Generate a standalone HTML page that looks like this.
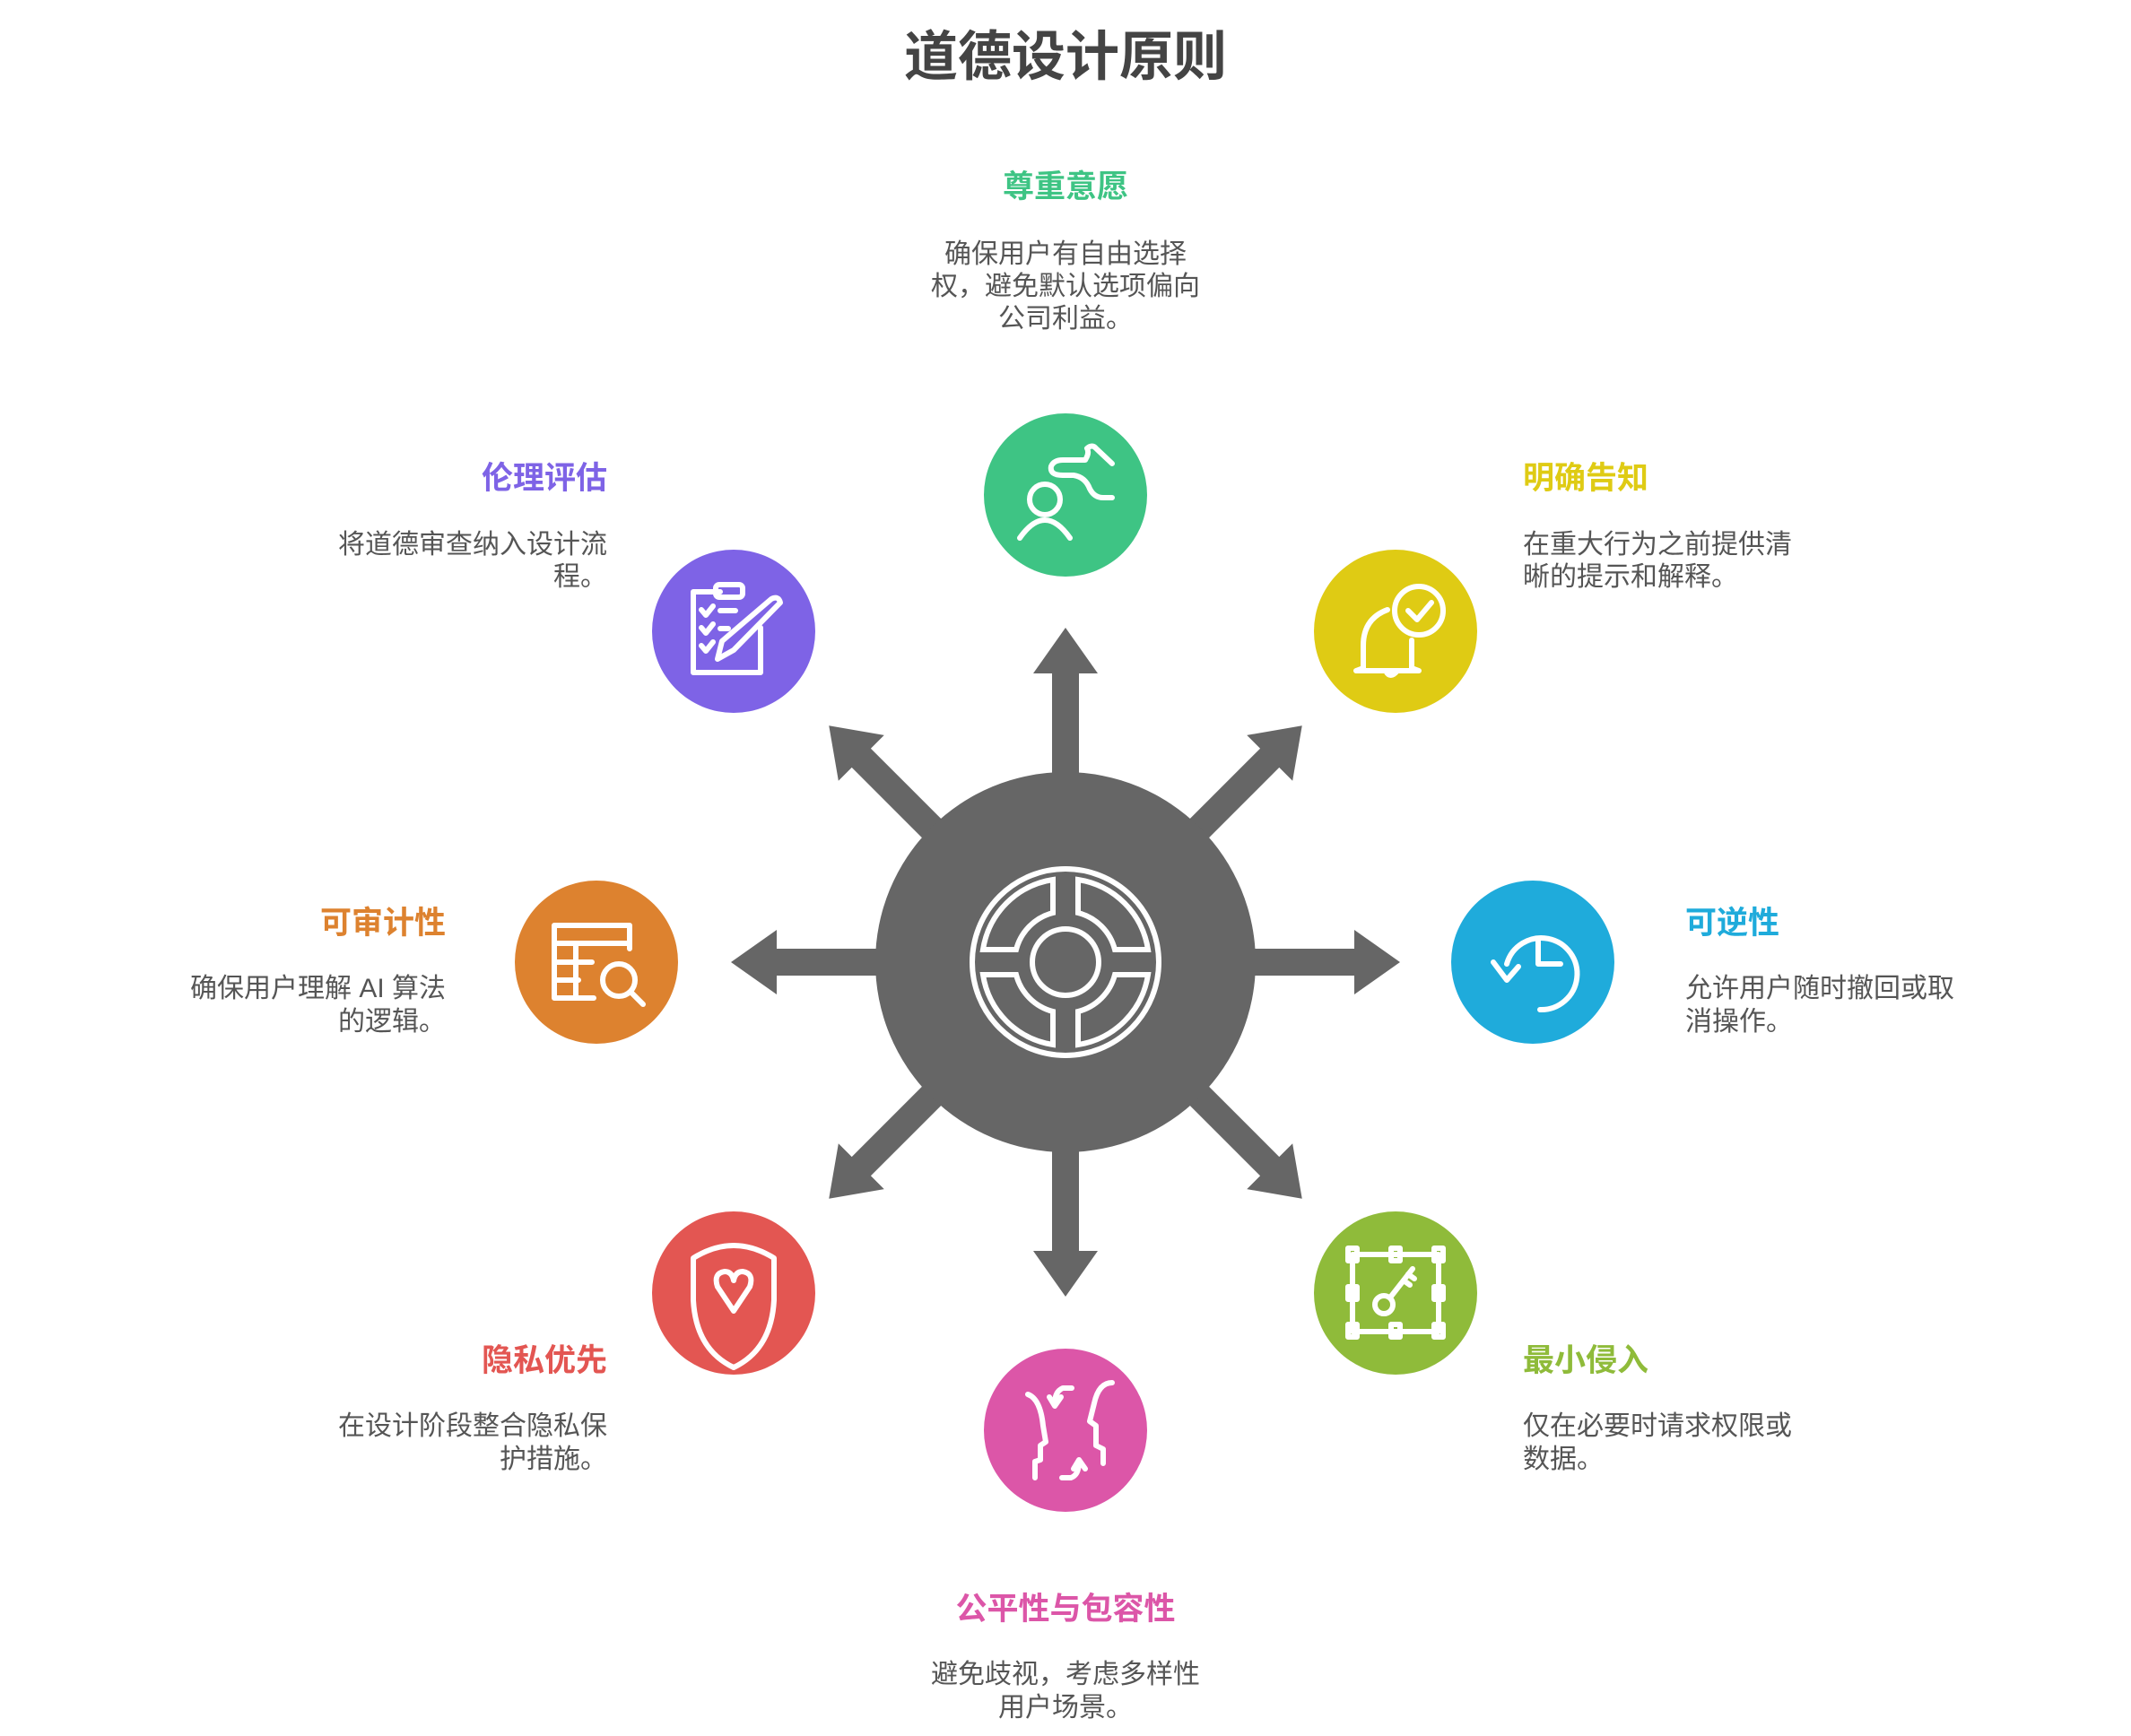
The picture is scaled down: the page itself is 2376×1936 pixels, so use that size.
<!DOCTYPE html>
<html><head><meta charset="utf-8"><style>
html,body{margin:0;padding:0;background:#fff;}
svg{display:block;}
text{font-family:"Liberation Sans","Noto Sans CJK SC",sans-serif;}
.t{font-weight:bold;font-size:35px;}
.d{font-size:30px;fill:#555;}
.ic{fill:none;stroke:#fff;stroke-width:6;stroke-linecap:round;stroke-linejoin:round;}
</style></head><body>
<svg width="2376" height="1936" viewBox="0 0 2376 1936" xmlns="http://www.w3.org/2000/svg">
<text x="1188" y="84" text-anchor="middle" font-size="60" font-weight="bold" fill="#444">道德设计原则</text>

<g transform="translate(1188,1073)" fill="#666">
  <g id="arr"><polygon points="-15,0 -15,-322 -36,-322 0,-373 36,-322 15,-322 15,0"/></g>
  <use href="#arr" transform="rotate(45)"/>
  <use href="#arr" transform="rotate(90)"/>
  <use href="#arr" transform="rotate(135)"/>
  <use href="#arr" transform="rotate(180)"/>
  <use href="#arr" transform="rotate(225)"/>
  <use href="#arr" transform="rotate(270)"/>
  <use href="#arr" transform="rotate(315)"/>
  <circle r="212"/>
  <g fill="none" stroke="#fff" stroke-width="6">
    <circle r="104"/>
    <circle r="37"/>
    <path id="q" d="M -14 -92 A 93 93 0 0 0 -92 -14 L -55 -14 A 57 57 0 0 1 -14 -55 Z"/>
    <use href="#q" transform="scale(-1,1)"/>
    <use href="#q" transform="scale(1,-1)"/>
    <use href="#q" transform="scale(-1,-1)"/>
  </g>
</g>

<circle cx="1188" cy="552" r="91" fill="#3ec484"/>
<circle cx="1556" cy="704" r="91" fill="#dfcb14"/>
<circle cx="1709" cy="1073" r="91" fill="#1fabdb"/>
<circle cx="1556" cy="1442" r="91" fill="#8fbb3a"/>
<circle cx="1188" cy="1595" r="91" fill="#dc56a8"/>
<circle cx="818" cy="1442" r="91" fill="#e35652"/>
<circle cx="665" cy="1073" r="91" fill="#dd822f"/>
<circle cx="818" cy="704" r="91" fill="#7e63e6"/>

<g class="ic">
  <circle cx="1165" cy="557" r="17"/>
  <path d="M1137 600 Q1165 560 1193 600"/>
  <path d="M1185 530 Q1170 530 1172 520 Q1175 513 1185 513 L1210 513 Q1215 505 1212 500 Q1218 495 1222 500 L1240 517"/>
  <path d="M1185 530 L1197 530 Q1210 532 1215 545 Q1220 555 1230 555 L1240 555"/>
  <circle cx="1582" cy="681" r="27"/>
  <path d="M1570 681 L1580 691 L1596 672"/>
  <path d="M1547 680 Q1520 690 1520 720 L1520 745 L1512 748 L1582 748 L1574 745 L1574 714"/>
  <path d="M1545 748 Q1550 758 1558 748"/>
  <path d="M1717 1126 A40 40 0 1 0 1680 1075"/>
  <path d="M1665 1073 L1680 1093 L1693 1078"/>
  <path d="M1715 1047 L1715 1075 L1740 1075"/>
  <rect x="1508" y="1399" width="96" height="86"/>
  <rect x="1503" y="1392" width="10" height="14"/><rect x="1551" y="1392" width="10" height="14"/><rect x="1599" y="1392" width="10" height="14"/>
  <rect x="1503" y="1477" width="10" height="14"/><rect x="1551" y="1477" width="10" height="14"/><rect x="1599" y="1477" width="10" height="14"/>
  <rect x="1503" y="1435" width="10" height="14"/><rect x="1599" y="1435" width="10" height="14"/>
  <circle cx="1543" cy="1455" r="10"/>
  <path d="M1550 1447 L1575 1415 M1565 1428 L1572 1433 M1570 1421 L1577 1426"/>
  <path d="M1146 1555 Q1160 1560 1163 1590 L1166 1608 L1160 1612 L1160 1628 L1154 1630 L1154 1648"/>
  <path d="M1240 1542 Q1225 1542 1220 1565 L1215 1585 L1222 1590 L1222 1612 L1230 1616 L1230 1632"/>
  <path d="M1195 1548 L1185 1548 Q1176 1552 1176 1565 M1170 1558 L1176 1568 L1183 1558"/>
  <path d="M1184 1648 L1194 1648 Q1203 1645 1203 1630 M1197 1638 L1203 1628 L1210 1638"/>
  <path d="M773 1403 Q818 1375 863 1403 L863 1450 Q860 1505 818 1525 Q776 1505 773 1450 Z"/>
  <path d="M818 1462 L800 1435 Q795 1420 808 1418 Q816 1418 818 1428 Q820 1418 828 1418 Q841 1420 836 1435 Z"/>
  <path d="M662 1113 L618 1113 L618 1032 L702 1032 L702 1058"/>
  <path d="M618 1052 L702 1052 M618 1073 L660 1073 M618 1093 L645 1093 M642 1052 L642 1113"/>
  <circle cx="690" cy="1093" r="18"/>
  <path d="M703 1106 L717 1120"/>
  <path d="M803 660 L773 660 L773 750 L848 750 L848 700"/>
  <rect x="798" y="652" width="30" height="14" rx="4"/>
  <path d="M782 680 L787 686 L795 676 M782 700 L787 706 L795 696 M782 720 L787 726 L795 716 M803 681 L820 681 M803 701 L812 701"/>
  <path d="M800 735 L805 715 L860 668 Q868 664 870 672 L818 725 Z"/>
</g>

<text class="t" x="1188" y="220" text-anchor="middle" fill="#3ec484">尊重意愿</text>
<text class="d" text-anchor="middle"><tspan x="1188" y="293">确保用户有自由选择</tspan><tspan x="1188" y="329">权，避免默认选项偏向</tspan><tspan x="1188" y="365">公司利益。</tspan></text>

<text class="t" x="1698" y="545" fill="#dfcb14">明确告知</text>
<text class="d"><tspan x="1698" y="617">在重大行为之前提供清</tspan><tspan x="1698" y="653">晰的提示和解释。</tspan></text>

<text class="t" x="1879" y="1041" fill="#1fabdb">可逆性</text>
<text class="d"><tspan x="1879" y="1112">允许用户随时撤回或取</tspan><tspan x="1879" y="1149">消操作。</tspan></text>

<text class="t" x="1698" y="1529" fill="#8fbb3a">最小侵入</text>
<text class="d"><tspan x="1698" y="1600">仅在必要时请求权限或</tspan><tspan x="1698" y="1637">数据。</tspan></text>

<text class="t" x="1188" y="1806" text-anchor="middle" fill="#dc56a8">公平性与包容性</text>
<text class="d" text-anchor="middle"><tspan x="1188" y="1877">避免歧视，考虑多样性</tspan><tspan x="1188" y="1914">用户场景。</tspan></text>

<text class="t" x="677" y="1529" text-anchor="end" fill="#e35652">隐私优先</text>
<text class="d" text-anchor="end"><tspan x="677" y="1600">在设计阶段整合隐私保</tspan><tspan x="677" y="1637">护措施。</tspan></text>

<text class="t" x="497" y="1041" text-anchor="end" fill="#dd822f">可审计性</text>
<text class="d" text-anchor="end"><tspan x="497" y="1112">确保用户理解 AI 算法</tspan><tspan x="497" y="1149">的逻辑。</tspan></text>

<text class="t" x="677" y="545" text-anchor="end" fill="#7e63e6">伦理评估</text>
<text class="d" text-anchor="end"><tspan x="677" y="617">将道德审查纳入设计流</tspan><tspan x="677" y="653">程。</tspan></text>
</svg>
</body></html>
